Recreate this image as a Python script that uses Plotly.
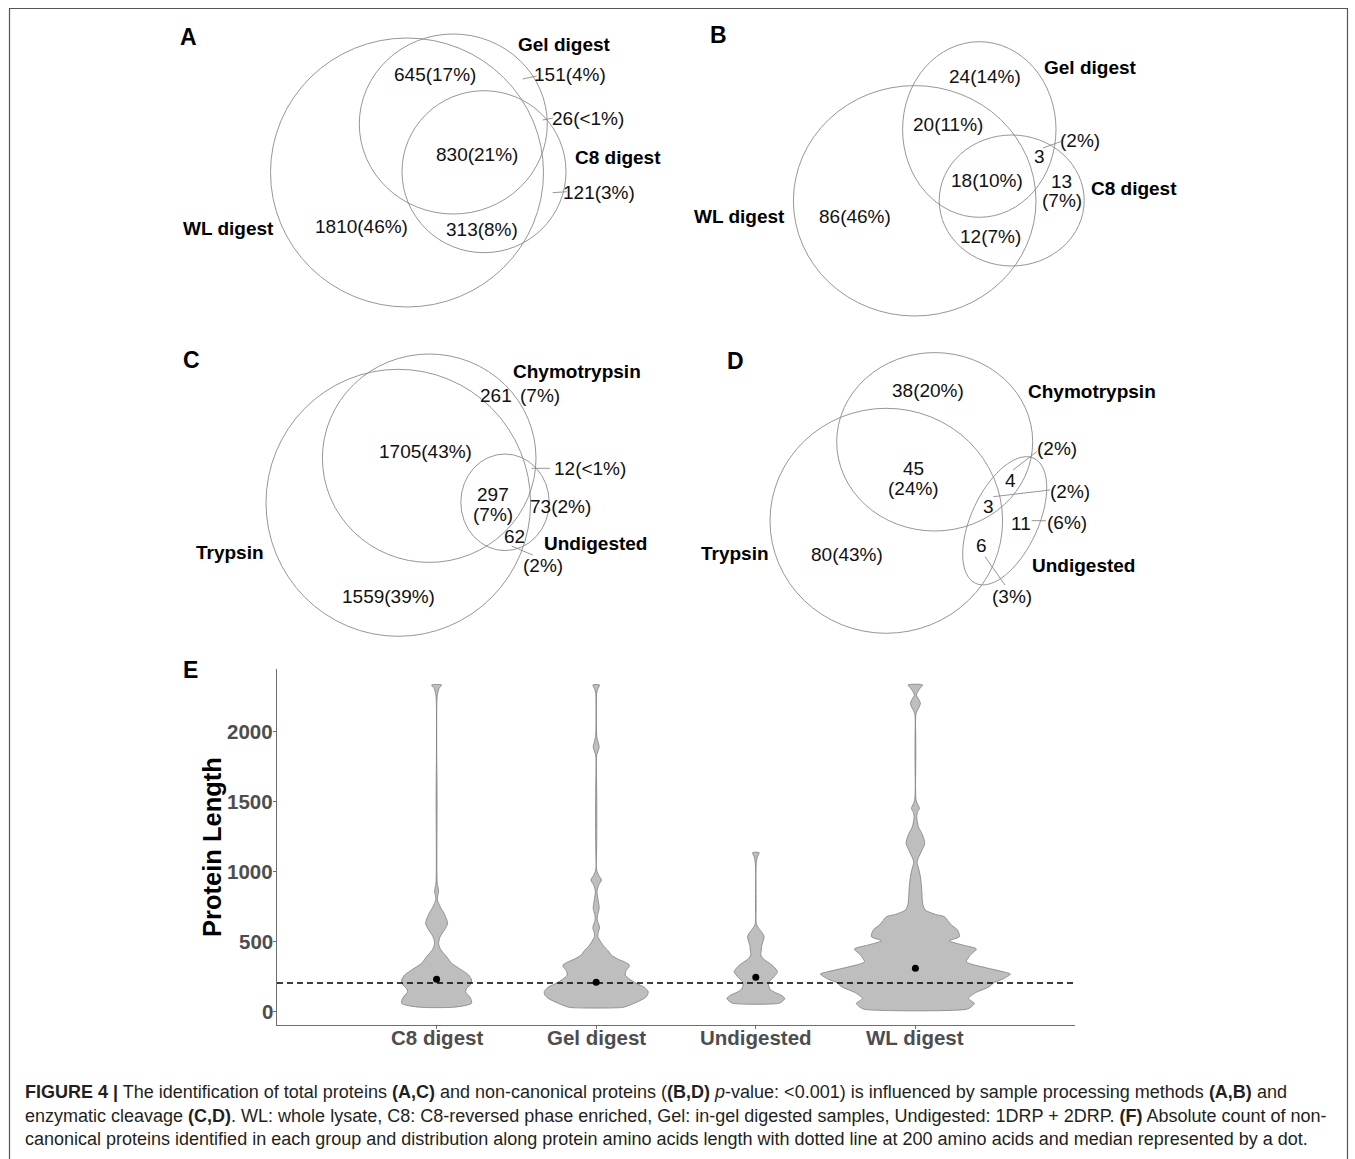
import math
import plotly.graph_objects as go

W, H = 1355, 1159
FONT = "Liberation Sans, Arial, Helvetica, sans-serif"

# ---------------- DATA ----------------
# Venn A: total proteins by sample processing
A_SETS = ["WL digest", "Gel digest", "C8 digest"]
# regions: WL only, WL&Gel, Gel only, all three, Gel&C8, WL&C8, C8 only
A_N = [1810, 645, 151, 830, 26, 313, 121]
A_P = ["46%", "17%", "4%", "21%", "<1%", "8%", "3%"]

# Venn B: non-canonical proteins by sample processing
B_SETS = ["WL digest", "Gel digest", "C8 digest"]
B_N = [86, 20, 24, 18, 3, 12, 13]
B_P = ["46%", "11%", "14%", "10%", "2%", "7%", "7%"]

# Venn C: total proteins by enzymatic cleavage
C_SETS = ["Trypsin", "Chymotrypsin", "Undigested"]
# regions: Trypsin only, T&Ch, Ch only, all three, Ch&U, T&U, U only
C_N = [1559, 1705, 261, 297, 12, 62, 73]
C_P = ["39%", "43%", "7%", "7%", "<1%", "2%", "2%"]

# Venn D: non-canonical proteins by enzymatic cleavage
D_SETS = ["Trypsin", "Chymotrypsin", "Undigested"]
D_N = [80, 45, 38, 3, 4, 6, 11]
D_P = ["43%", "24%", "20%", "2%", "2%", "3%", "6%"]

# Panel E: violin outlines
E_CATS = ["C8 digest", "Gel digest", "Undigested", "WL digest"]
E_MEDIAN = [226, 205, 241, 305]
E_THRESHOLD = 200
# protein length (top -> bottom) and violin half-width (density, px-scaled)
C8_LEN = [2329, 2305, 2250, 1500, 915, 880, 852, 825, 795, 740, 690, 626, 580, 530, 483,
          440, 388, 341, 293, 257, 221, 190, 160, 138, 110, 90, 55, 38, 26]
C8_W = [5, 2.5, 0.6, 0.5, 0.6, 1.5, 2, 1.2, 0.8, 4, 8, 11, 8, 3.5, 2,
        4, 10, 15, 25, 32, 35, 34, 30, 29, 32, 34, 35, 28, 15]
GEL_LEN = [2329, 2300, 2269, 1971, 1930, 1888, 1850, 1829, 1007, 970, 936, 900, 852, 790,
           733, 690, 650, 610, 590, 560, 531, 500, 459, 430, 400, 370, 352, 330, 317, 290,
           257, 230, 198, 170, 138, 110, 90, 55, 38, 26]
GEL_W = [3.3, 1.5, 0.5, 0.5, 1.5, 3, 1.5, 0.5, 0.5, 2.5, 5.3, 2.5, 0.8, 2,
         3, 1.5, 1, 3, 3.3, 2, 1.7, 4, 8, 12, 15, 22, 28, 33, 33, 30,
         29, 33, 40, 48, 52, 51, 48, 38, 32, 27]
UND_LEN = [1131, 1100, 1055, 626, 590, 555, 530, 500, 470, 436, 400, 370, 352, 317, 281,
           260, 233, 210, 186, 165, 150, 130, 114, 90, 72, 55]
UND_W = [3.3, 1.5, 0.5, 0.5, 3, 6.7, 8.3, 7.3, 6, 5.5, 5, 8, 11.7, 18, 21.7,
         20, 16.7, 13.5, 12.7, 13.5, 15, 20, 25, 29, 27, 23]
WL_LEN = [2329, 2300, 2257, 2230, 2198, 2160, 2126, 1507, 1480, 1448, 1418, 1388, 1317,
          1260, 1198, 1140, 1067, 1010, 960, 880, 817, 760, 721, 690, 674, 640, 614, 580,
          531, 502, 470, 443, 400, 352, 310, 280, 264, 230, 200, 174, 130, 90, 55, 30, 12]
WL_W = [7.3, 4, 1, 3, 5, 3, 0.7, 0.7, 2, 4, 2, 1.3, 3,
        7, 9.3, 6, 1.7, 3.5, 5, 6.2, 6.7, 7.5, 10, 20, 29, 33, 36, 42,
        44, 34, 48, 61, 55, 51, 70, 88, 95, 88, 78, 74, 60, 53, 59, 56, 51]
E_PROFILES = [(C8_LEN, C8_W), (GEL_LEN, GEL_W), (UND_LEN, UND_W), (WL_LEN, WL_W)]
E_YTICKS = [0, 500, 1000, 1500, 2000]

CAPTION = [
    "<b>FIGURE 4 |</b> The identification of total proteins <b>(A,C)</b> and non-canonical proteins "
    "(<b>(B,D)</b> <i>p</i>-value: &lt;0.001) is influenced by sample processing methods <b>(A,B)</b> and",
    "enzymatic cleavage <b>(C,D)</b>. WL: whole lysate, C8: C8-reversed phase enriched, Gel: in-gel "
    "digested samples, Undigested: 1DRP + 2DRP. <b>(F)</b> Absolute count of non-",
    "canonical proteins identified in each group and distribution along protein amino acids length "
    "with dotted line at 200 amino acids and median represented by a dot.",
]

# ---------------- helpers ----------------
def X(px):
    return px / W


def Y(py):
    return 1 - py / H


def esc(s):
    return s.replace("<", "&lt;")


shapes = []
annotations = []


def ellipse(cx, cy, rx, ry, ang=0.0, color="#8a8a8a"):
    if ang == 0:
        shapes.append(dict(type="circle", xref="paper", yref="paper",
                           x0=X(cx - rx), x1=X(cx + rx), y0=Y(cy + ry), y1=Y(cy - ry),
                           line=dict(color=color, width=0.9)))
        return
    a = math.radians(ang)
    pts = []
    for i in range(73):
        t = 2 * math.pi * i / 72
        ex, ey = rx * math.cos(t), ry * math.sin(t)
        px = cx + ex * math.cos(a) + ey * math.sin(a)
        py = cy - ex * math.sin(a) + ey * math.cos(a)
        pts.append(f"{X(px):.5f},{Y(py):.5f}")
    shapes.append(dict(type="path", xref="paper", yref="paper",
                       path="M" + " L".join(pts) + " Z",
                       line=dict(color=color, width=0.9)))


def leader(x0, y0, x1, y1):
    shapes.append(dict(type="line", xref="paper", yref="paper",
                       x0=X(x0), y0=Y(y0), x1=X(x1), y1=Y(y1),
                       line=dict(color="#8a8a8a", width=0.9)))


def text(t, x, y, size=19, bold=False, color="#111111", xanchor="center", angle=0):
    annotations.append(dict(text=(f"<b>{t}</b>" if bold else t), x=X(x), y=Y(y),
                            xref="paper", yref="paper", showarrow=False,
                            xanchor=xanchor, yanchor="middle", textangle=angle,
                            borderpad=0,
                            font=dict(family=FONT, size=size, color=color)))


def full(n, p):
    return esc(f"{n}({p})")


# ---------------- frame ----------------
shapes.append(dict(type="path", xref="paper", yref="paper",
                   path=f"M{X(9.5)},{Y(1159)} L{X(9.5)},{Y(8.5)} L{X(1347.5)},{Y(8.5)} L{X(1347.5)},{Y(1159)}",
                   line=dict(color="#555555", width=1.2)))

# ---------------- Panel A ----------------
text("A", 188, 37, 23, True, "#000")
ellipse(407, 172.5, 136.5, 134.5)
ellipse(453.3, 124, 94, 90)
ellipse(484, 171.7, 82, 81)
text(A_SETS[0], 228, 228, 19, True, "#000")
text(A_SETS[1], 564, 45, 19, True, "#000")
text(A_SETS[2], 618, 158, 19, True, "#000")
for i, (x, y) in enumerate([(361.7, 226.7), (435, 75), (570, 75), (476.7, 155),
                            (588, 118), (481.7, 230), (599, 192)]):
    text(full(A_N[i], A_P[i]), x, y)
leader(522.7, 79, 536.7, 76)
leader(542.7, 120, 553, 118)
leader(552.7, 192.7, 566.7, 191.7)

# ---------------- Panel B ----------------
text("B", 718.3, 35, 23, True, "#000")
ellipse(914.7, 200.8, 121.3, 115.2)
ellipse(979.3, 129.5, 76.7, 87.8)
ellipse(1011.7, 200.5, 72.5, 65.5)
text(B_SETS[0], 739, 216.7, 19, True, "#000")
text(B_SETS[1], 1090.7, 68, 19, True, "#000")
text(B_SETS[2], 1134, 188, 19, True, "#000")
text(full(B_N[0], B_P[0]), 855, 216.7)
text(full(B_N[1], B_P[1]), 948, 124)
text(full(B_N[2], B_P[2]), 985, 76.7)
text(full(B_N[3], B_P[3]), 986.7, 180)
text(str(B_N[4]), 1039, 156)
text(f"({B_P[4]})", 1080, 140)
leader(1043, 148, 1061, 141.5)
text(full(B_N[5], B_P[5]), 990.7, 236.7)
text(str(B_N[6]), 1061.7, 181)
text(f"({B_P[6]})", 1061.7, 200)

# ---------------- Panel C ----------------
text("C", 191.7, 360, 23, True, "#000")
ellipse(398.3, 502.8, 132.3, 133.5)
ellipse(429.2, 458.2, 106.8, 104.2)
ellipse(505, 502.3, 44.2, 48.3)
text(C_SETS[0], 230, 552.7, 19, True, "#000")
text(C_SETS[1], 576.7, 371.7, 19, True, "#000")
text(C_SETS[2], 595, 543, 19, True, "#000")
text(full(C_N[0], C_P[0]), 388, 596.7)
text(full(C_N[1], C_P[1]), 425, 451.7)
text(str(C_N[2]), 495.7, 395.7)
text(f"({C_P[2]})", 540.3, 395.7)
text(str(C_N[3]), 493.3, 494)
text(f"({C_P[3]})", 493.3, 514)
text(full(C_N[4], C_P[4]), 590, 468)
leader(531.7, 468.3, 550, 468.3)
text(str(C_N[5]), 514, 536.7)
text(f"({C_P[5]})", 543.3, 565)
leader(511.7, 546, 532.7, 555)
text(full(C_N[6], C_P[6]), 560, 506)

# ---------------- Panel D ----------------
text("D", 735, 360.7, 23, True, "#000")
ellipse(934.7, 441.8, 98, 89.2)
ellipse(886.3, 520.8, 116.3, 112.5)
ellipse(1004.7, 520.8, 69, 33.4, 65)
text(D_SETS[0], 735, 553, 19, True, "#000")
text(D_SETS[1], 1091.7, 391.7, 19, True, "#000")
text(D_SETS[2], 1083, 565, 19, True, "#000")
text(full(D_N[0], D_P[0]), 846.7, 554)
text(str(D_N[1]), 913, 468.5)
text(f"({D_P[1]})", 913, 488)
text(full(D_N[2], D_P[2]), 928, 390)
text(str(D_N[3]), 988, 506.7)
text(f"({D_P[3]})", 1070, 491.7)
leader(993.3, 496.7, 1050, 490)
text(str(D_N[4]), 1010, 480.7)
text(f"({D_P[4]})", 1056.7, 448.3)
leader(1013, 470, 1036.7, 451.7)
text(str(D_N[5]), 981.7, 545)
text(f"({D_P[5]})", 1011.7, 596.7)
leader(985, 556.7, 1005, 585)
text(str(D_N[6]), 1020.7, 523.3)
text(f"({D_P[6]})", 1066.7, 522.7)
leader(1031.7, 520.7, 1046, 520.7)

# ---------------- Panel E ----------------
text("E", 190.4, 670, 23, True, "#000")
text("Protein Length", 212, 847, 25.5, True, "#000", angle=-90)

X_RANGE = [0, 5]
Y_RANGE = [-100, 2441]
PX_PER_UNIT = (1075 - 277) / (X_RANGE[1] - X_RANGE[0])
TICKFONT = dict(family=FONT, size=20.5, color="#4d4d4d")

fig = go.Figure()
for i, (lens, ws) in enumerate(E_PROFILES):
    c = i + 1
    half = [w / PX_PER_UNIT for w in ws]
    xs = [c + h for h in reversed(half)] + [c - h for h in half]
    ys = list(reversed(lens)) + list(lens)
    xs.append(xs[0])
    ys.append(ys[0])
    fig.add_trace(go.Scatter(x=xs, y=ys, mode="lines", fill="toself",
                             fillcolor="#bebebe",
                             line=dict(color="#7f7f7f", width=0.8, shape="spline", smoothing=0.7),
                             hoverinfo="skip", showlegend=False))

fig.add_trace(go.Scatter(x=X_RANGE, y=[E_THRESHOLD, E_THRESHOLD], mode="lines",
                         line=dict(color="#000", width=1.6, dash="6px,4px"),
                         hoverinfo="skip", showlegend=False))
fig.add_trace(go.Scatter(x=[1, 2, 3, 4], y=E_MEDIAN, mode="markers",
                         marker=dict(color="#000", size=7),
                         hoverinfo="skip", showlegend=False))

# tick labels placed as text on the axes' own scales
for i, cat in enumerate(E_CATS):
    annotations.append(dict(text=f"<b>{cat}</b>", x=i + 1, xref="x", y=Y(1037), yref="paper",
                            showarrow=False, xanchor="center", yanchor="middle",
                            borderpad=0, font=TICKFONT))
for v in E_YTICKS:
    annotations.append(dict(text=f"<b>{v}</b>", x=X(273.5), xref="paper", y=v, yref="y",
                            showarrow=False, xanchor="right", yanchor="middle",
                            borderpad=0, font=TICKFONT))

fig.update_layout(
    width=W, height=H, autosize=False,
    margin=dict(l=0, r=0, t=0, b=0),
    paper_bgcolor="white", plot_bgcolor="rgba(0,0,0,0)",
    shapes=shapes,
    annotations=annotations + [
        dict(text=line, x=X(24), y=Y(yc), xref="paper", yref="paper", showarrow=False,
             xanchor="left", yanchor="middle", borderpad=0,
             font=dict(family=FONT, size=18, color="#231f20"))
        for line, yc in zip(CAPTION, [1092, 1115.5, 1139])
    ],
    xaxis=dict(domain=[X(277), X(1075)], range=X_RANGE, tickvals=[1, 2, 3, 4],
               showticklabels=False, showline=True, linecolor="#6e6e6e", linewidth=1,
               ticks="outside", ticklen=3, tickcolor="#6e6e6e",
               showgrid=False, zeroline=False, fixedrange=True),
    yaxis=dict(domain=[Y(1025), Y(669.3)], range=Y_RANGE, tickvals=E_YTICKS,
               showticklabels=False, showline=True, linecolor="#6e6e6e", linewidth=1,
               ticks="outside", ticklen=3, tickcolor="#6e6e6e",
               showgrid=False, zeroline=False, fixedrange=True),
    font=dict(family=FONT),
)

fig.write_html("out.html", config={"displayModeBar": False},
               post_script="document.body.style.margin='0';")
